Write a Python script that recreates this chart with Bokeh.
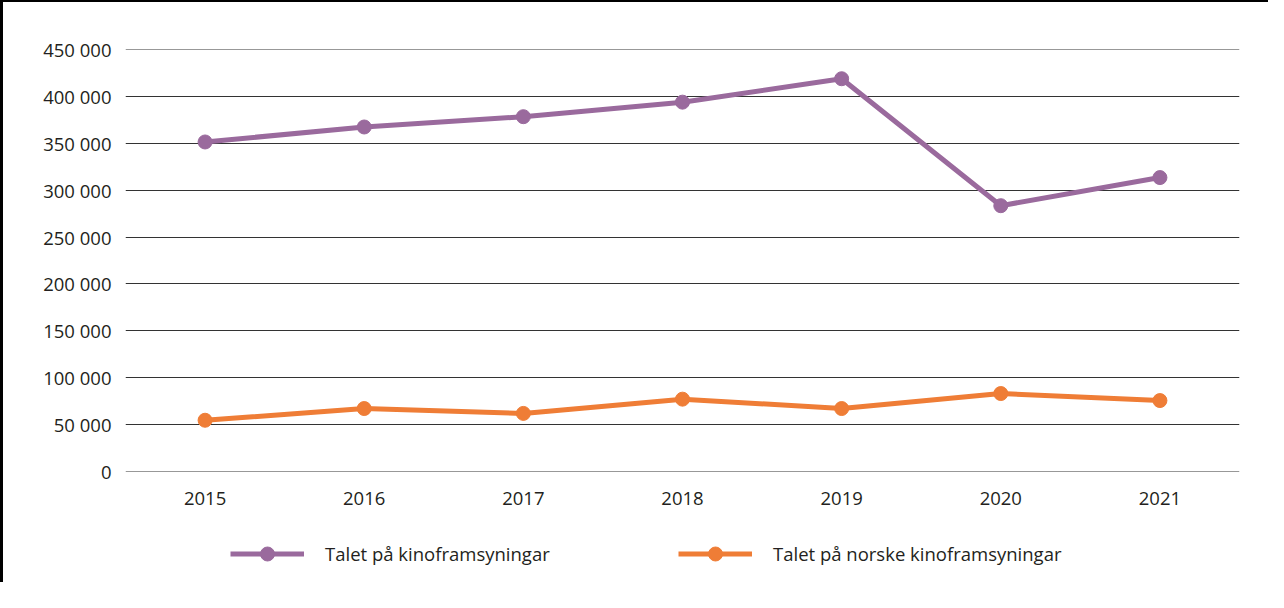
from bokeh.plotting import figure
from bokeh.layouts import column
from bokeh.models import FactorRange, Range1d, FixedTicker, Legend, LegendItem, ColumnDataSource
from bokeh.embed import file_html
from bokeh.resources import INLINE

years = ["2015", "2016", "2017", "2018", "2019", "2020", "2021"]
total_screenings = [351500, 367500, 378500, 394000, 419000, 283500, 313500]
norwegian_screenings = [54500, 67000, 61800, 77000, 67000, 83000, 75500]
y_ticks = [0, 50000, 100000, 150000, 200000, 250000, 300000, 350000, 400000, 450000]
y_tick_labels = ["0", "50 000", "100 000", "150 000", "200 000", "250 000",
                 "300 000", "350 000", "400 000", "450 000"]
series_names = ["Talet på kinoframsyningar", "Talet på norske kinoframsyningar"]

PURPLE = "#9a6a9d"
ORANGE = "#ef7d36"
TEXT = "#231f20"
FONT = "Open Sans"

p = figure(x_range=FactorRange(factors=years), y_range=Range1d(-200, 450200),
           width=1265, height=520, output_backend="svg", toolbar_location=None,
           min_border_left=122, min_border_right=29, min_border_top=47, min_border_bottom=51)
p.outline_line_color = None
p.background_fill_color = "white"
p.border_fill_color = "white"

p.xgrid.grid_line_color = None
p.ygrid.grid_line_color = "#333333"
p.ygrid.grid_line_width = 1
p.ygrid.ticker = FixedTicker(ticks=y_ticks)

p.yaxis.ticker = FixedTicker(ticks=y_ticks)
p.yaxis.major_label_overrides = {t: l for t, l in zip(y_ticks, y_tick_labels)}
for ax in (p.xaxis[0], p.yaxis[0]):
    ax.axis_line_color = None
    ax.major_tick_line_color = None
    ax.minor_tick_line_color = None
    ax.major_label_text_font = FONT
    ax.major_label_text_font_size = "18.5px"
    ax.major_label_text_color = TEXT
p.yaxis.major_label_standoff = 8
p.xaxis.major_label_standoff = 14

src1 = ColumnDataSource(dict(x=years, y=total_screenings))
src2 = ColumnDataSource(dict(x=years, y=norwegian_screenings))
p.line("x", "y", source=src1, line_color=PURPLE, line_width=5)
p.scatter("x", "y", source=src1, size=14, fill_color=PURPLE, line_color=PURPLE)
p.line("x", "y", source=src2, line_color=ORANGE, line_width=5)
p.scatter("x", "y", source=src2, size=14, fill_color=ORANGE, line_color=ORANGE)

# legend strip below the chart (its own range hides the series themselves)
lg = figure(width=1265, height=60, output_backend="svg", toolbar_location=None,
            x_range=FactorRange(factors=years), y_range=Range1d(0, 1),
            x_axis_type=None, y_axis_type=None,
            min_border_left=0, min_border_right=0, min_border_top=0, min_border_bottom=0)
lg.outline_line_color = None
lg.xgrid.visible = False
lg.ygrid.visible = False
kl1 = lg.line("x", "y", source=src1, line_color=PURPLE, line_width=5)
ks1 = lg.scatter("x", "y", source=src1, size=14, fill_color=PURPLE, line_color=PURPLE)
kl2 = lg.line("x", "y", source=src2, line_color=ORANGE, line_width=5)
ks2 = lg.scatter("x", "y", source=src2, size=14, fill_color=ORANGE, line_color=ORANGE)

legend = Legend(items=[LegendItem(label=series_names[0], renderers=[kl1, ks1]),
                       LegendItem(label=series_names[1], renderers=[kl2, ks2])],
                orientation="horizontal", location=(105, 11),
                glyph_width=74, glyph_height=35, label_standoff=21, spacing=0,
                label_width=353, padding=0, margin=0, border_line_color=None,
                background_fill_alpha=0,
                label_text_font=FONT, label_text_font_size="18.5px", label_text_color=TEXT)
lg.add_layout(legend, "center")

layout = column(p, lg, spacing=0)
layout.styles = {"border-left": "3px solid black", "border-top": "2px solid black"}

open("out.html", "w").write(file_html(layout, INLINE))
